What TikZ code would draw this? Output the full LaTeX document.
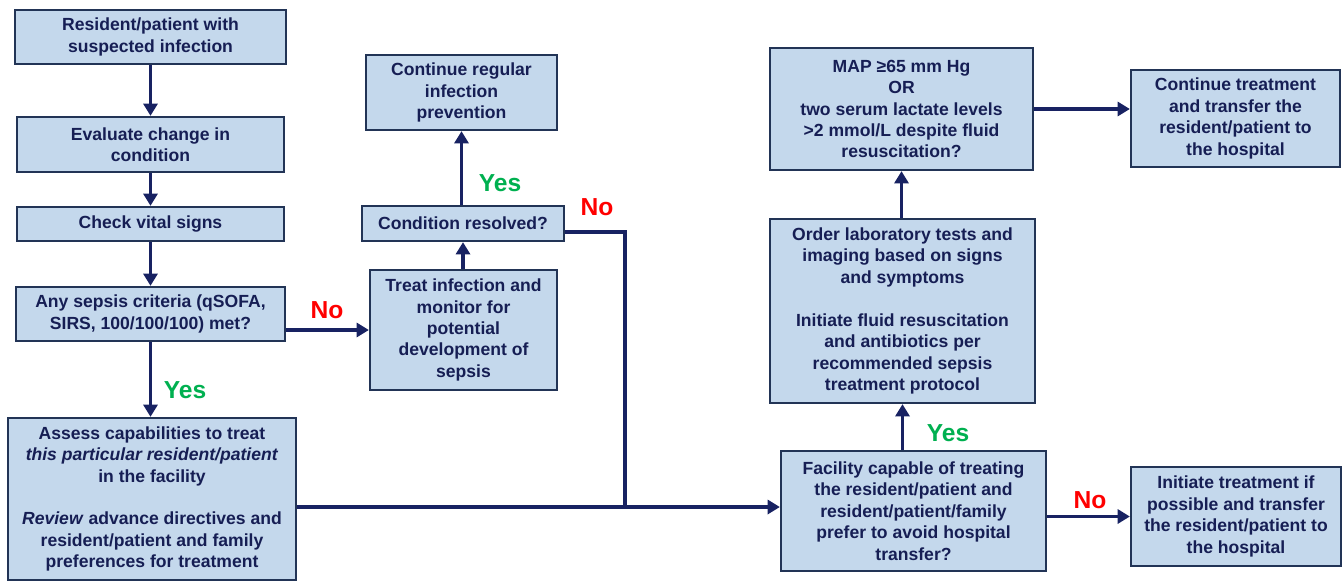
\documentclass[tikz,border=0pt]{standalone}
\usepackage{fontspec}
\setmainfont{Liberation Sans}
\usepackage{tikz}
\usetikzlibrary{arrows.meta}
\usepackage{xcolor}
\definecolor{boxfill}{RGB}{196,216,236}
\definecolor{boxline}{RGB}{34,52,86}
\definecolor{boxtext}{RGB}{22,30,84}
\definecolor{arrowblue}{RGB}{24,34,98}
\definecolor{nored}{RGB}{255,0,0}
\definecolor{yesgreen}{RGB}{0,176,80}

\begin{document}
\begin{tikzpicture}[x=0.02cm,y=-0.02cm]
  \tikzset{stepbox/.style = {shape=rectangle,draw=boxline,line width=1.3pt,fill=boxfill,
      align=center,inner sep=2pt,text=boxtext,font=\fontsize{10}{12.2}\selectfont\bfseries}}
  \tikzset{arr/.style = {draw=arrowblue,line width=2.2pt,-{Triangle[length=7pt,width=8pt]}}}
  \tikzset{link/.style = {draw=arrowblue,line width=2.2pt}}
  \tikzset{yes/.style = {text=yesgreen,font=\fontsize{14}{16}\selectfont\bfseries}}
  \tikzset{no/.style = {text=nored,font=\fontsize{14}{16}\selectfont\bfseries}}

  \useasboundingbox (0,0) rectangle (1344,581);

	% left column
	\node[stepbox,minimum width=5.42cm,minimum height=1.08cm] (Sus) at (150.5,37) {Resident/patient with\\suspected infection};
	\node[stepbox,minimum width=5.34cm,minimum height=1.1cm] (Eval) at (150.5,144.5) {Evaluate change in\\condition};
	\node[stepbox,minimum width=5.34cm,minimum height=0.68cm] (Vital) at (150.5,224) {Check vital signs};
	\node[stepbox,minimum width=5.38cm,minimum height=1.08cm] (Crit) at (150.5,314) {Any sepsis criteria (qSOFA,\\SIRS, 100/100/100) met?};
	\node[stepbox,minimum width=5.76cm,minimum height=3.24cm] (Assess) at (152,499) {Assess capabilities to treat\\\textit{this particular resident/patient}\\in the facility\\[12.2pt]\textit{Review} advance directives and\\resident/patient and family\\preferences for treatment};

	% middle column
	\node[stepbox,minimum width=3.82cm,minimum height=1.5cm] (Prev) at (461.5,92.5) {Continue regular\\infection\\prevention};
	\node[stepbox,minimum width=4.04cm,minimum height=0.7cm] (Resolved) at (463,223.5) {Condition resolved?};
	\node[stepbox,minimum width=3.74cm,minimum height=2.4cm] (Treat) at (463.5,330) {Treat infection and\\monitor for\\potential\\development of\\sepsis};

	% right columns
	\node[stepbox,minimum width=5.26cm,minimum height=2.44cm] (MAP) at (901.5,109) {MAP ≥65 mm Hg\\OR\\two serum lactate levels\\>2 mmol/L despite fluid\\resuscitation?};
	\node[stepbox,minimum width=4.18cm,minimum height=1.94cm] (Transfer) at (1235.5,118.5) {Continue treatment\\and transfer the\\resident/patient to\\the hospital};
	\node[stepbox,minimum width=5.3cm,minimum height=3.68cm] (Order) at (902.5,311) {Order laboratory tests and\\imaging based on signs\\and symptoms\\[12.2pt]Initiate fluid resuscitation\\and antibiotics per\\recommended sepsis\\treatment protocol};
	\node[stepbox,minimum width=5.3cm,minimum height=2.4cm] (Capable) at (913.5,511) {Facility capable of treating\\the resident/patient and\\resident/patient/family\\prefer to avoid hospital\\transfer?};
	\node[stepbox,minimum width=4.2cm,minimum height=1.98cm] (Initiate) at (1236,516.5) {Initiate treatment if\\possible and transfer\\the resident/patient to\\the hospital};

	\coordinate (NoJoin) at (625,507);

    \foreach \from/\to in {Sus/Eval, Eval/Vital, Vital/Crit, Crit/Assess}
    \path (\from.south) edge[arr] (\from.south |- \to.north);

    \foreach \from/\to in {Treat/Resolved, Resolved/Prev, Capable/Order, Order/MAP}
    \path (\to.south |- \from.north) edge[arr] (\to.south);

	\draw[arr] (Crit.east |- Treat.west) -- (Treat.west);
	\draw[link] ([yshift=-0.17cm]Resolved.east) -| (NoJoin);
	\draw[arr] (Assess.east |- NoJoin) -- (Capable.west |- NoJoin);
	\draw[arr] (MAP.east) -- (MAP.east -| Transfer.west);
	\draw[arr] (Capable.east |- Initiate.west) -- (Initiate.west);

	% answers
	\node[no] (NoTreat) at (327,310) {No};
	\node[yes] (YesAssess) at (185,390) {Yes};
	\node[yes] (YesPrev) at (500,183) {Yes};
	\node[no] (NoResolved) at (597,207) {No};
	\node[yes] (YesOrder) at (948,433) {Yes};
	\node[no] (NoInitiate) at (1090,500) {No};

\end{tikzpicture}
\end{document}
